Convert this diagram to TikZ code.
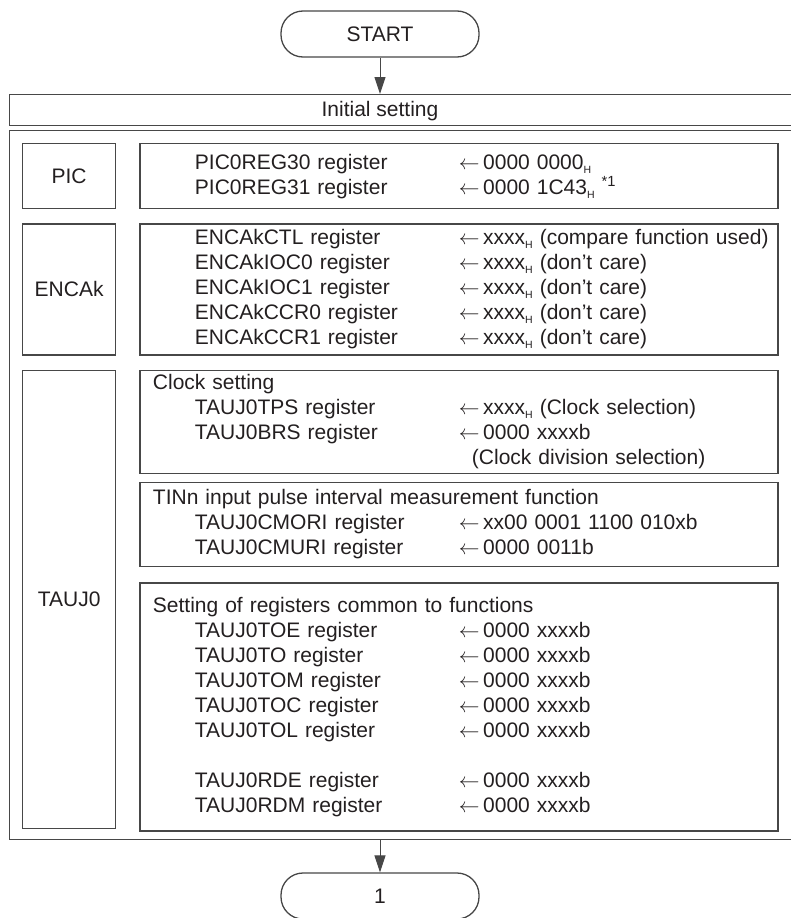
\documentclass[tikz,border=0pt]{standalone}
\usepackage{fontspec}
\setmainfont{Liberation Sans}
\usetikzlibrary{arrows.meta,positioning}
\definecolor{flowink}{HTML}{231F20}
\definecolor{flowline}{HTML}{474747}
\newcommand{\hx}{\raisebox{-4pt}{\fontsize{10.5}{10.5}\selectfont H}}
\newcommand{\la}{$\leftarrow$\,}
\newcommand{\reg}[2]{\hspace*{42pt}\makebox[264pt][l]{#1}\rlap{#2}}

\begin{document}
\begin{tikzpicture}[x=1pt,y=-1pt,
  font=\fontsize{21}{25}\selectfont,text=flowink,node distance=14pt and 23pt,
  frame/.style={draw=flowline,line width=1.3pt,inner sep=0pt},
  term/.style={frame,rounded corners=22pt,minimum width=198pt,minimum height=46pt},
  lbl/.style={frame,minimum width=93pt,align=center},
  regbox/.style={frame,text width=612pt,inner xsep=13pt,align=left},
  arr/.style={-{Triangle[length=17pt,width=11pt]},line width=1pt,flowline}]
\useasboundingbox (0,0) rectangle (791,918);
\node[term] (start) at (380,34) {START};
\node[frame,anchor=north west,minimum width=800pt,minimum height=31pt] (init) at (9,94) {};
\node (initlbl) at (380,111) {Initial setting};
\node[frame,anchor=north west,minimum width=800pt,minimum height=709pt] (outer) at (9,130) {};
\node[lbl,anchor=north west,minimum height=65pt] (piclbl) at (22,143) {PIC};
\node[regbox,minimum height=65pt,right=of piclbl] (picbox) {%
  \reg{PIC0REG30 register}{\la 0000 0000\hx}\\
  \reg{PIC0REG31 register}{\la 0000 1C43\hx\ \textsuperscript{*1}}};
\node[lbl,minimum height=131pt,below=of piclbl] (enclbl) {ENCAk};
\node[regbox,minimum height=131pt,right=of enclbl] (encbox) {%
  \reg{ENCAkCTL register}{\la xxxx\hx\ (compare function used)}\\
  \reg{ENCAkIOC0 register}{\la xxxx\hx\ (don’t care)}\\
  \reg{ENCAkIOC1 register}{\la xxxx\hx\ (don’t care)}\\
  \reg{ENCAkCCR0 register}{\la xxxx\hx\ (don’t care)}\\
  \reg{ENCAkCCR1 register}{\la xxxx\hx\ (don’t care)}};
\node[lbl,minimum height=458pt,below=of enclbl] (taulbl) {TAUJ0};
\node[regbox,minimum height=103pt,right=of taulbl.north east,anchor=north west] (clkbox) {%
  Clock setting\\
  \reg{TAUJ0TPS register}{\la xxxx\hx\ (Clock selection)}\\
  \reg{TAUJ0BRS register}{\la 0000 xxxxb}\\
  \hspace*{319pt}(Clock division selection)};
\node[regbox,minimum height=84pt,below=8pt of clkbox] (tinbox) {%
  TINn input pulse interval measurement function\\
  \reg{TAUJ0CMORI register}{\la xx00 0001 1100 010xb}\\
  \reg{TAUJ0CMURI register}{\la 0000 0011b}};
\node[regbox,minimum height=248pt,below=15pt of tinbox] (cmnbox) {%
  Setting of registers common to functions\\
  \reg{TAUJ0TOE register}{\la 0000 xxxxb}\\
  \reg{TAUJ0TO register}{\la 0000 xxxxb}\\
  \reg{TAUJ0TOM register}{\la 0000 xxxxb}\\
  \reg{TAUJ0TOC register}{\la 0000 xxxxb}\\
  \reg{TAUJ0TOL register}{\la 0000 xxxxb}\\[25pt]
  \reg{TAUJ0RDE register}{\la 0000 xxxxb}\\
  \reg{TAUJ0RDM register}{\la 0000 xxxxb}};
\node[term] (one) at (380,896) {1};
\draw[arr] (start) -- (start |- init.north);
\draw[arr] (one |- outer.south) -- (one);
\end{tikzpicture}
\end{document}
